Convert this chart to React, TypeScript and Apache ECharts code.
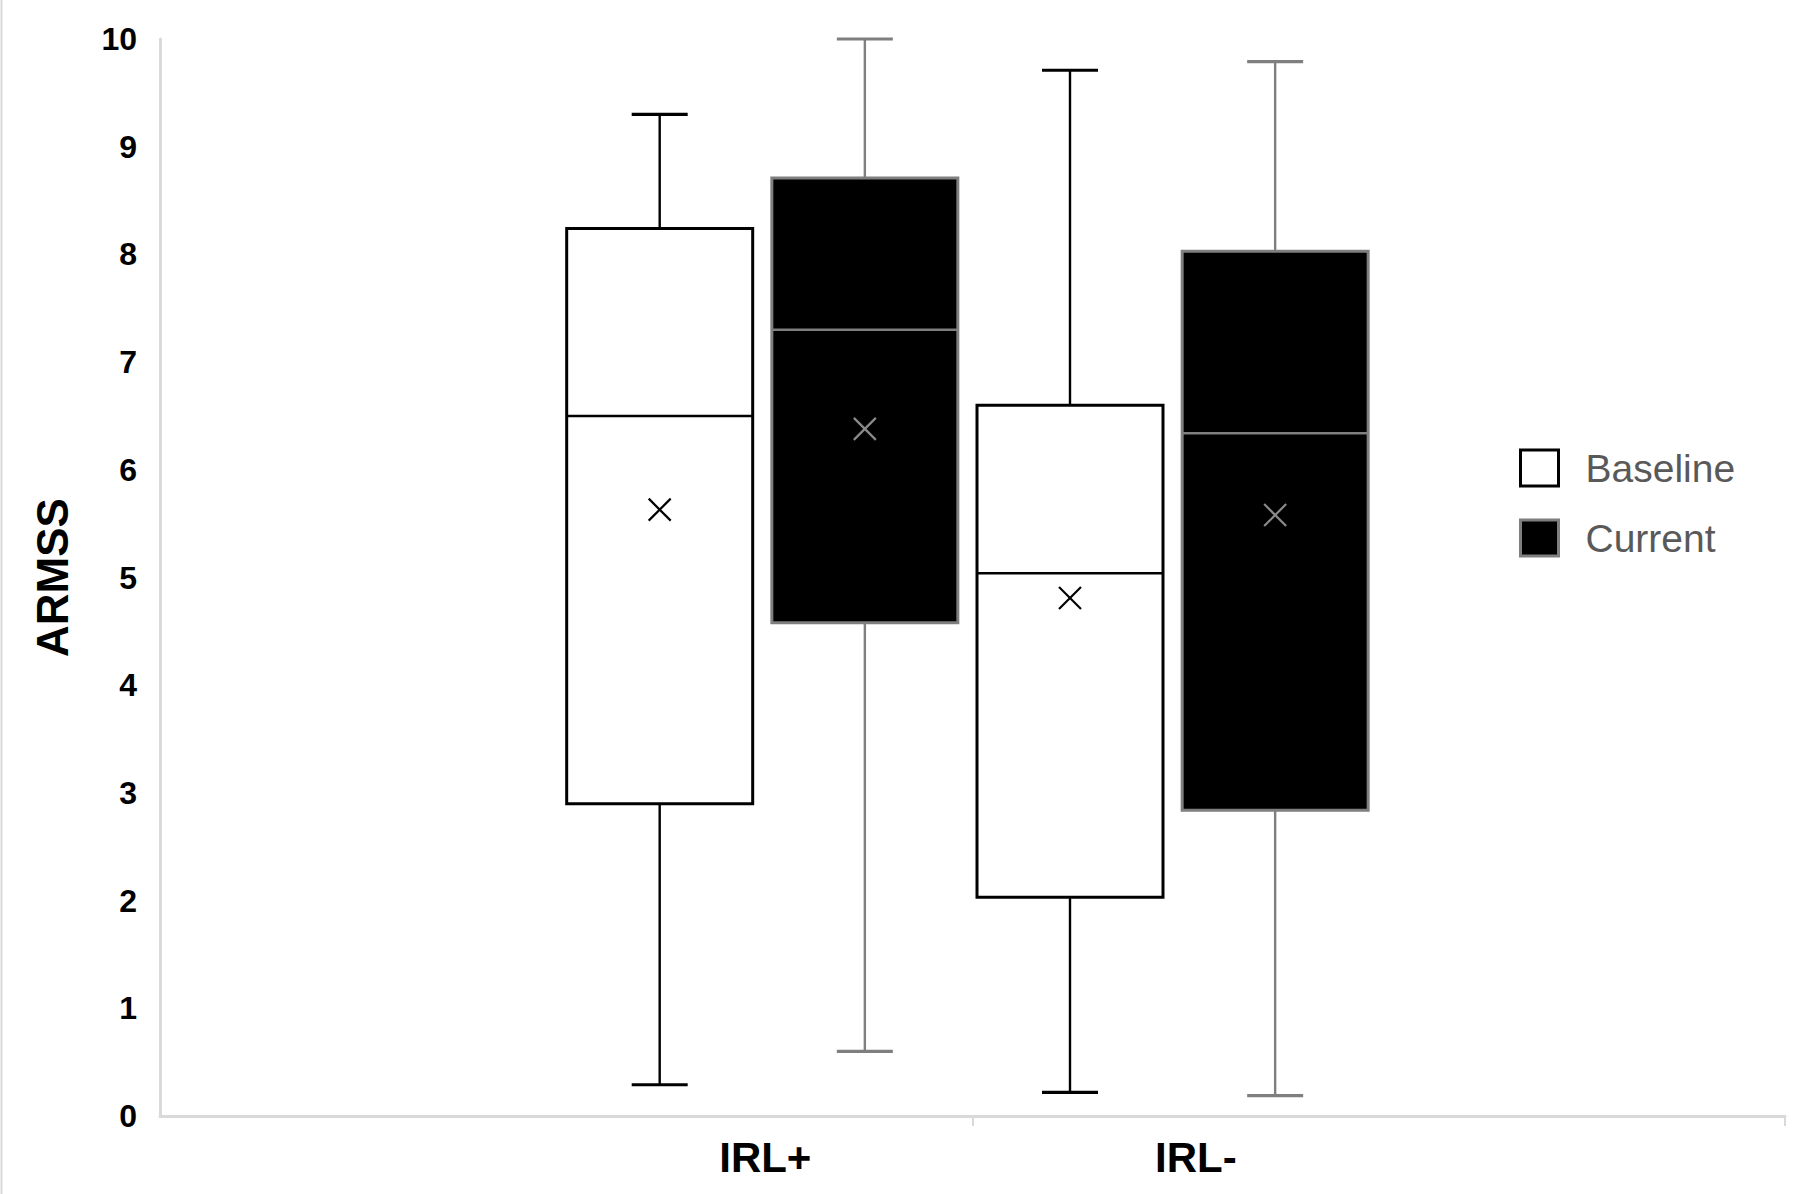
import React, { useEffect, useRef } from 'react';
import * as echarts from 'echarts';

// ---- data ----
const categories = ['IRL+', 'IRL-'];
const seriesNames = ['Baseline', 'Current'];

const baselineMin = [0.29, 0.22];
const baselineQ1 = [2.9, 2.03];
const baselineMedian = [6.5, 5.04];
const baselineQ3 = [8.24, 6.6];
const baselineMax = [9.3, 9.71];
const baselineMean = [5.63, 4.81];

const currentMin = [0.6, 0.19];
const currentQ1 = [4.58, 2.84];
const currentMedian = [7.3, 6.34];
const currentQ3 = [8.71, 8.03];
const currentMax = [10.0, 9.79];
const currentMean = [6.38, 5.58];

// ---- layout (slot positions on the hidden horizontal scale 0..8) ----
const BASE_SLOTS = [2.46, 4.48];
const CUR_SLOTS = [3.47, 5.49];
const LABEL_POS = [2.98, 5.1];
const TICK_POS = [4, 8];

const BOX_W = 186;
const CAP_W = 56;
const MEAN_HALF = 11;

const FONT = '"Liberation Sans", Arial, sans-serif';

function buildRows(slots: number[], mn: number[], q1: number[], md: number[], q3: number[], mx: number[], mean: number[]) {
  return categories.map((_, i) => [slots[i], mn[i], q1[i], md[i], q3[i], mx[i], mean[i]]);
}

function makeRenderer(stroke: string, fill: string, boxBorder: number, whiskerW: number, capW: number, medianW: number, meanColor: string) {
  return (params: any, api: any) => {
    const x = api.value(0);
    const pMin = api.coord([x, api.value(1)]);
    const pQ1 = api.coord([x, api.value(2)]);
    const pMed = api.coord([x, api.value(3)]);
    const pQ3 = api.coord([x, api.value(4)]);
    const pMax = api.coord([x, api.value(5)]);
    const pMean = api.coord([x, api.value(6)]);
    const cx = pMed[0];
    const half = BOX_W / 2;
    const ch = CAP_W / 2;
    return {
      type: 'group',
      children: [
        { type: 'line', shape: { x1: cx, y1: pQ3[1], x2: cx, y2: pMax[1] }, style: { stroke, lineWidth: whiskerW } },
        { type: 'line', shape: { x1: cx, y1: pQ1[1], x2: cx, y2: pMin[1] }, style: { stroke, lineWidth: whiskerW } },
        { type: 'line', shape: { x1: cx - ch, y1: pMax[1], x2: cx + ch, y2: pMax[1] }, style: { stroke, lineWidth: capW } },
        { type: 'line', shape: { x1: cx - ch, y1: pMin[1], x2: cx + ch, y2: pMin[1] }, style: { stroke, lineWidth: capW } },
        {
          type: 'rect',
          shape: { x: cx - half, y: pQ3[1], width: BOX_W, height: pQ1[1] - pQ3[1] },
          style: { fill, stroke, lineWidth: boxBorder },
        },
        { type: 'line', shape: { x1: cx - half, y1: pMed[1], x2: cx + half, y2: pMed[1] }, style: { stroke, lineWidth: medianW } },
        {
          type: 'line',
          shape: { x1: cx - MEAN_HALF, y1: pMean[1] - MEAN_HALF, x2: cx + MEAN_HALF, y2: pMean[1] + MEAN_HALF },
          style: { stroke: meanColor, lineWidth: 2.2 },
        },
        {
          type: 'line',
          shape: { x1: cx - MEAN_HALF, y1: pMean[1] + MEAN_HALF, x2: cx + MEAN_HALF, y2: pMean[1] - MEAN_HALF },
          style: { stroke: meanColor, lineWidth: 2.2 },
        },
      ],
    };
  };
}

export default function App() {
  const ref = useRef<HTMLDivElement>(null);

  useEffect(() => {
    document.body.style.margin = '0';
    const chart = echarts.init(ref.current as HTMLDivElement, null, { renderer: 'svg' });

    const baselineRows = buildRows(BASE_SLOTS, baselineMin, baselineQ1, baselineMedian, baselineQ3, baselineMax, baselineMean);
    const currentRows = buildRows(CUR_SLOTS, currentMin, currentQ1, currentMedian, currentQ3, currentMax, currentMean);

    chart.setOption({
      animation: false,
      backgroundColor: '#ffffff',
      grid: { left: 160, right: 12, top: 39, bottom: 78, containLabel: false },
      graphic: [
        { type: 'line', shape: { x1: 1.5, y1: 0, x2: 1.5, y2: 1194 }, style: { stroke: '#d9d9d9', lineWidth: 2 } },
      ],
      legend: {
        orient: 'vertical',
        left: 1514,
        top: 443,
        itemWidth: 38,
        itemHeight: 36,
        itemGap: 30,
        selectedMode: false,
        textStyle: { color: '#595959', fontSize: 39, fontFamily: FONT, padding: [0, 0, 0, 22], lineHeight: 40 },
        data: [
          { name: seriesNames[0], icon: 'rect', itemStyle: { color: '#ffffff', borderColor: '#000000', borderWidth: 3 } },
          { name: seriesNames[1], icon: 'rect', itemStyle: { color: '#000000', borderColor: '#7f7f7f', borderWidth: 3 } },
        ],
      },
      xAxis: {
        type: 'value',
        min: 0,
        max: 8,
        splitLine: { show: false },
        axisLine: { show: true, lineStyle: { color: '#d9d9d9', width: 3 } },
        axisTick: { show: true, customValues: TICK_POS, length: 10, lineStyle: { color: '#d9d9d9', width: 2 } },
        axisLabel: {
          show: true,
          customValues: LABEL_POS,
          formatter: (v: number) => (v < TICK_POS[0] ? categories[0] : categories[1]),
          color: '#000000',
          fontSize: 42,
          fontWeight: 'bold',
          fontFamily: FONT,
          margin: 20,
        },
      },
      yAxis: {
        type: 'value',
        min: 0,
        max: 10,
        interval: 1,
        name: 'ARMSS',
        nameLocation: 'middle',
        nameGap: 86,
        nameTextStyle: { color: '#000000', fontSize: 44, fontWeight: 'bold', fontFamily: FONT },
        splitLine: { show: false },
        axisTick: { show: false },
        axisLine: { show: true, lineStyle: { color: '#d9d9d9', width: 3 } },
        axisLabel: { color: '#000000', fontSize: 32, fontWeight: 'bold', fontFamily: FONT, margin: 23 },
      },
      series: [
        {
          name: seriesNames[0],
          type: 'custom',
          encode: { x: 0, y: [1, 5] },
          itemStyle: { color: '#ffffff', borderColor: '#000000' },
          renderItem: makeRenderer('#000000', '#ffffff', 3, 2.4, 3.2, 2.6, '#000000'),
          data: baselineRows,
        },
        {
          name: seriesNames[1],
          type: 'custom',
          encode: { x: 0, y: [1, 5] },
          itemStyle: { color: '#000000', borderColor: '#7f7f7f' },
          renderItem: makeRenderer('#7f7f7f', '#000000', 3, 2.4, 3.2, 2.6, '#8a8a8a'),
          data: currentRows,
        },
      ],
    });

    return () => chart.dispose();
  }, []);

  return <div ref={ref} style={{ width: 1797, height: 1194 }} />;
}
